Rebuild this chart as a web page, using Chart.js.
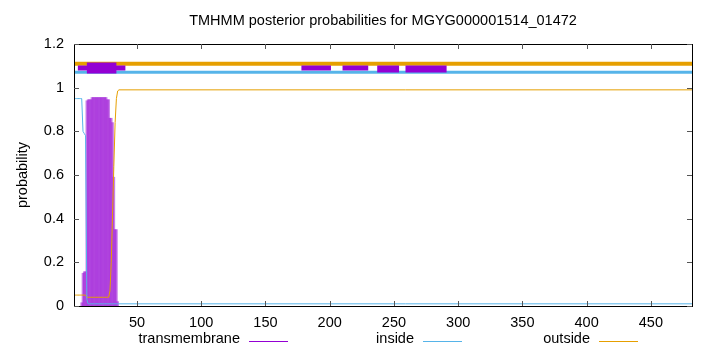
<!DOCTYPE html>
<html>
<head>
<meta charset="utf-8">
<script src="https://cdn.jsdelivr.net/npm/chart.js@4.4.1/dist/chart.umd.min.js"></script>
<style>
	html, body { margin: 0; padding: 0; background: #fff; }
</style>
</head>
<body>
<canvas id="tmhmm" width="720" height="352"></canvas>
<script>
const chartTitle = 'TMHMM posterior probabilities for MGYG000001514_01472';
const yAxisTitle = 'probability';
const legendNames = ['transmembrane', 'inside', 'outside'];
const xTicks = [50, 100, 150, 200, 250, 300, 350, 400, 450];
const yTicks = [0, 0.2, 0.4, 0.6, 0.8, 1, 1.2];
const seqStart = 1;
const seqEnd = 482;

// transmembrane posterior (impulses)
const tmPos = [7, 8, 9, 10, 11, 12, 13, 14, 15, 16, 17, 18, 19, 20, 21, 22, 23, 24, 25, 26, 27, 28, 29, 30, 31, 32, 33, 34, 35];
const tmProb = [0.015, 0.15, 0.157, 0.157, 0.94, 0.945, 0.945, 0.945, 0.955, 0.955, 0.955, 0.955, 0.955, 0.955, 0.955, 0.955, 0.955, 0.955, 0.955, 0.955, 0.945, 0.945, 0.86, 0.86, 0.84, 0.59, 0.35, 0.35, 0.02];

// inside / outside posterior lines
const linePos = [1, 2, 3, 4, 5, 6, 7, 8, 9, 10, 11, 12, 13, 14, 15, 16, 17, 18, 19, 20, 21, 22, 23, 24, 25, 26, 27, 28, 29, 30, 31, 32, 33, 34, 35, 36, 482];
const insideProb = [0.95, 0.95, 0.95, 0.95, 0.95, 0.95, 0.95, 0.8, 0.79, 0.78, 0.03, 0.01, 0.01, 0.01, 0.01, 0.01, 0.01, 0.01, 0.01, 0.01, 0.01, 0.01, 0.01, 0.01, 0.01, 0.01, 0.01, 0.01, 0.01, 0.01, 0.01, 0.01, 0.01, 0.01, 0.01, 0.01, 0.01];
const outsideProb = [0.05, 0.05, 0.05, 0.05, 0.05, 0.05, 0.05, 0.05, 0.05, 0.05, 0.04, 0.04, 0.04, 0.04, 0.04, 0.04, 0.04, 0.04, 0.04, 0.04, 0.04, 0.04, 0.04, 0.04, 0.04, 0.04, 0.04, 0.04, 0.07, 0.2, 0.42, 0.64, 0.84, 0.95, 0.985, 0.99, 0.99];

// predicted topology bars at the top
const outsideLevel = 1.11;
const insideLevel = 1.071;
const tmLevel = 1.09;
const tmSegStart = [4, 178, 210];
const tmSegEnd = [41, 201, 230];
const tmCoreStart = [11];
const tmCoreEnd = [34];
const tmWideStart = [237, 259];
const tmWideEnd = [254, 291];

const purple = '#9400d3';
const blue = '#56b4e9';
const orange = '#e69f00';
const fontFamily = '"Liberation Sans", Arial, sans-serif';
const fontSize = 14.5;

function segments(starts, ends, level) {
	const pts = [];
	starts.forEach((s, i) => {
		pts.push({ x: s, y: level }, { x: ends[i], y: level }, { x: ends[i], y: null });
	});
	return pts;
}

const gnuplotFrame = {
	id: 'gnuplotFrame',
	afterDraw(chart) {
		const ctx = chart.ctx;
		const a = chart.chartArea;
		const xs = chart.scales.x;
		const ys = chart.scales.y;
		ctx.save();
		ctx.strokeStyle = '#000';
		ctx.lineWidth = 1;
		ctx.strokeRect(Math.round(a.left) + 0.5, Math.round(a.top) + 0.5, Math.round(a.right - a.left), Math.round(a.bottom - a.top));

		ctx.strokeStyle = '#555';
		ctx.beginPath();
		xTicks.forEach(v => {
			const px = Math.round(xs.getPixelForValue(v)) + 0.5;
			ctx.moveTo(px, a.bottom); ctx.lineTo(px, a.bottom - 5);
			ctx.moveTo(px, a.top); ctx.lineTo(px, a.top + 5);
		});
		yTicks.forEach(v => {
			const py = Math.round(ys.getPixelForValue(v)) + 0.5;
			ctx.moveTo(a.left, py); ctx.lineTo(a.left + 5, py);
			ctx.moveTo(a.right, py); ctx.lineTo(a.right - 5, py);
		});
		ctx.stroke();

		ctx.fillStyle = '#000';
		ctx.font = fontSize + 'px ' + fontFamily;
		ctx.textAlign = 'center';
		ctx.textBaseline = 'middle';
		ctx.fillText(chartTitle, (a.left + a.right) / 2, 21);

		ctx.save();
		ctx.translate(23, (a.top + a.bottom) / 2);
		ctx.rotate(-Math.PI / 2);
		ctx.fillText(yAxisTitle, 0, 0);
		ctx.restore();

		const legendColors = [purple, blue, orange];
		const legendRight = [240, 414, 590];
		ctx.textAlign = 'right';
		legendNames.forEach((name, i) => {
			ctx.fillStyle = '#000';
			ctx.fillText(name, legendRight[i], 339);
			ctx.strokeStyle = legendColors[i];
			ctx.beginPath();
			ctx.moveTo(legendRight[i] + 9, 341.5);
			ctx.lineTo(legendRight[i] + 48, 341.5);
			ctx.stroke();
		});
		ctx.restore();
	}
};

Chart.defaults.font.family = fontFamily;
Chart.defaults.font.size = fontSize;
Chart.defaults.color = '#000';

new Chart(document.getElementById('tmhmm'), {
	type: 'line',
	data: {
		datasets: [
			{
				label: 'tm core',
				data: segments(tmCoreStart, tmCoreEnd, tmLevel),
				borderColor: purple,
				borderWidth: 11,
				spanGaps: false,
				order: 0
			},
			{
				label: 'tm top',
				data: segments(tmSegStart, tmSegEnd, tmLevel),
				borderColor: purple,
				borderWidth: 5,
				spanGaps: false,
				order: 0
			},
			{
				label: 'tm top wide',
				data: segments(tmWideStart, tmWideEnd, tmLevel - 0.004),
				borderColor: purple,
				borderWidth: 7,
				spanGaps: false,
				order: 0
			},
			{
				label: 'outside top',
				data: [{ x: seqStart, y: outsideLevel }, { x: seqEnd, y: outsideLevel }],
				borderColor: orange,
				borderWidth: 4,
				order: 1
			},
			{
				label: 'inside top',
				data: [{ x: seqStart, y: insideLevel }, { x: seqEnd, y: insideLevel }],
				borderColor: blue,
				borderWidth: 3,
				order: 1
			},
			{
				label: legendNames[1],
				data: linePos.map((p, i) => ({ x: p, y: insideProb[i] })),
				borderColor: blue,
				borderWidth: 1,
				order: 2
			},
			{
				label: legendNames[2],
				data: linePos.map((p, i) => ({ x: p, y: outsideProb[i] })),
				borderColor: orange,
				borderWidth: 1,
				order: 2
			},
			{
				type: 'bar',
				label: legendNames[0],
				data: tmPos.map((p, i) => ({ x: p, y: tmProb[i] })),
				backgroundColor: 'rgba(148, 0, 211, 0.5)',
				borderWidth: 0,
				barThickness: 2,
				order: 3
			}
		]
	},
	options: {
		responsive: false,
		animation: false,
		devicePixelRatio: 1,
		layout: { padding: { left: 0, right: 28, top: 44, bottom: 0 } },
		elements: { point: { radius: 0 }, line: { tension: 0 } },
		plugins: {
			legend: { display: false },
			title: { display: false },
			tooltip: { enabled: false }
		},
		scales: {
			x: {
				type: 'linear',
				min: seqStart,
				max: seqEnd,
				offset: false,
				grid: { display: false, drawTicks: false, offset: false },
				border: { display: false },
				ticks: { padding: 8, maxRotation: 0, autoSkip: false },
				afterBuildTicks: s => { s.ticks = xTicks.map(v => ({ value: v })); },
				afterFit: s => { s.height = 46; }
			},
			y: {
				min: 0,
				max: 1.2,
				grid: { display: false, drawTicks: false },
				border: { display: false },
				ticks: { padding: 10, callback: v => String(+v.toFixed(1)) },
				afterBuildTicks: s => { s.ticks = yTicks.map(v => ({ value: v })); },
				afterFit: s => { s.width = 74; }
			}
		}
	},
	plugins: [gnuplotFrame]
});
</script>
</body>
</html>
